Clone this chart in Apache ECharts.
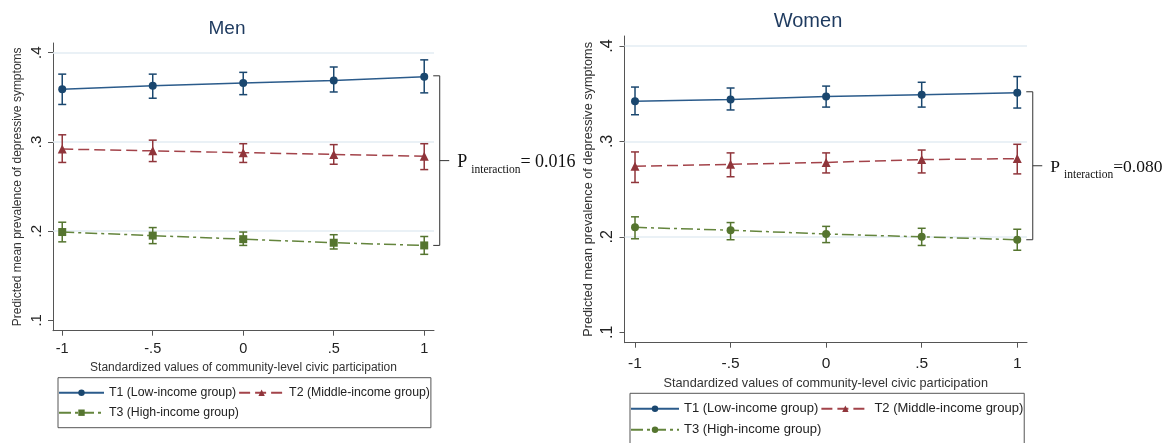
<!DOCTYPE html>
<html><head><meta charset="utf-8">
<script src="https://cdn.jsdelivr.net/npm/echarts@6/dist/echarts.min.js"></script>
<style>html,body{margin:0;padding:0;background:#fff}#c{width:1164px;height:443px}</style>
</head><body><div id="c"></div>
<script>
// ---------- data ----------
const xValues = [-1, -0.5, 0, 0.5, 1];
const xTickLabels = ['-1', '-.5', '0', '.5', '1'];
const yTickValues = [0.1, 0.2, 0.3, 0.4];
const yTickLabels = ['.1', '.2', '.3', '.4'];
const gridLineValues = [0.2, 0.3, 0.4];
const groupNames = ['T1 (Low-income group)', 'T2 (Middle-income group)', 'T3 (High-income group)'];
const panelTitles = ['Men', 'Women'];
const yAxisTitle = 'Predicted mean prevalence of depressive symptoms';
const xAxisTitle = 'Standardized values of community-level civic participation';
const pInteractionText = ['= 0.016', '=0.080'];

// Men
const menT1 = [0.359, 0.363, 0.366, 0.369, 0.373];
const menT1Lo = [0.342, 0.349, 0.353, 0.356, 0.355];
const menT1Hi = [0.376, 0.376, 0.378, 0.384, 0.392];
const menT2 = [0.292, 0.290, 0.288, 0.286, 0.284];
const menT2Lo = [0.277, 0.278, 0.277, 0.275, 0.269];
const menT2Hi = [0.308, 0.302, 0.298, 0.297, 0.298];
const menT3 = [0.199, 0.195, 0.191, 0.187, 0.184];
const menT3Lo = [0.188, 0.186, 0.184, 0.180, 0.174];
const menT3Hi = [0.210, 0.204, 0.199, 0.196, 0.194];
// Women
const womT1 = [0.342, 0.344, 0.347, 0.349, 0.351];
const womT1Lo = [0.328, 0.333, 0.336, 0.336, 0.335];
const womT1Hi = [0.357, 0.356, 0.358, 0.362, 0.368];
const womT2 = [0.274, 0.276, 0.278, 0.281, 0.282];
const womT2Lo = [0.257, 0.263, 0.267, 0.267, 0.266];
const womT2Hi = [0.289, 0.288, 0.288, 0.291, 0.297];
const womT3 = [0.210, 0.207, 0.203, 0.200, 0.197];
const womT3Lo = [0.198, 0.197, 0.194, 0.191, 0.186];
const womT3Hi = [0.221, 0.215, 0.211, 0.209, 0.208];

// ---------- styles ----------
const SANS = 'Liberation Sans, Arial, sans-serif';
const SERIF = 'Liberation Serif, Times New Roman, serif';
const markerColors = ['#1a476f', '#90353b', '#55752f'];
const lineColors = ['#2b5b8b', '#a3434a', '#64853d'];
const lineTypes = ['solid', [11, 5], [12, 4, 3, 4]];

const panels = [
  { grid: { left: 53, top: 43, width: 381, height: 287.7 },
    xRange: [-1.051, 1.054], yRange: [0.0884, 0.4109],
    vals: [menT1, menT2, menT3], lo: [menT1Lo, menT2Lo, menT3Lo], hi: [menT1Hi, menT2Hi, menT3Hi],
    symbols: ['circle', 'triangle', 'rect'], prefix: '',
    title: { x: 227, y: 29, size: 19 },
    tickFont: 14.5, yTickFont: 15, nameFont: 12, xMargin: 11, xNameGap: 28, yNameGap: 29,
    legend: { left: 58, top: 377.7, font: 12.3, lh: 18, iw: 45, width: 380, pad: [6, 1, 6, 0] },
    ann: { font: 18, sub: 11.5 } },
  { grid: { left: 624.5, top: 36, width: 402.5, height: 306.7 },
    xRange: [-1.055, 1.051], yRange: [0.0891, 0.4105],
    vals: [womT1, womT2, womT3], lo: [womT1Lo, womT2Lo, womT3Lo], hi: [womT1Hi, womT2Hi, womT3Hi],
    symbols: ['circle', 'triangle', 'circle'], prefix: 'W|',
    title: { x: 808, y: 21, size: 20 },
    tickFont: 15.5, yTickFont: 16, nameFont: 12.7, xMargin: 13, xNameGap: 33, yNameGap: 30,
    legend: { left: 630, top: 393.3, font: 13, lh: 19, iw: 48, width: 410, pad: [6, 1, 6, 0] },
    ann: { font: 17.5, sub: 11.5 } }
];

const grids = [], xAxes = [], yAxes = [], series = [], legends = [], graphics = [];

panels.forEach((p, pi) => {
  grids.push(Object.assign({ containLabel: false }, p.grid));
  xAxes.push({
    type: 'value', gridIndex: pi, min: p.xRange[0], max: p.xRange[1],
    axisLine: { show: true, onZero: false, lineStyle: { color: '#555', width: 1 } },
    axisTick: { show: true, length: 5, customValues: xValues, lineStyle: { color: '#555' } },
    axisLabel: { customValues: xValues, margin: p.xMargin, fontSize: p.tickFont, fontFamily: SANS, color: '#222',
      formatter: v => xTickLabels[xValues.indexOf(v)] },
    splitLine: { show: false },
    name: xAxisTitle, nameLocation: 'middle', nameGap: p.xNameGap,
    nameTextStyle: { fontSize: p.nameFont, fontFamily: SANS, color: '#333' }
  });
  yAxes.push({
    type: 'value', gridIndex: pi, min: p.yRange[0], max: p.yRange[1],
    axisLine: { show: true, onZero: false, lineStyle: { color: '#555', width: 1 } },
    axisTick: { show: true, length: 5, customValues: yTickValues, lineStyle: { color: '#555' } },
    axisLabel: { customValues: yTickValues, rotate: 90, margin: 9, fontSize: p.yTickFont, fontFamily: SANS, color: '#222',
      formatter: v => yTickLabels[yTickValues.indexOf(v)] },
    splitLine: { show: false },
    name: yAxisTitle, nameLocation: 'middle', nameGap: p.yNameGap,
    nameTextStyle: { fontSize: p.nameFont, fontFamily: SANS, color: '#333' }
  });

  // line series
  for (let g = 0; g < 3; g++) {
    const s = {
      type: 'line', name: p.prefix + groupNames[g], xAxisIndex: pi, yAxisIndex: pi,
      data: xValues.map((x, i) => [x, p.vals[g][i]]),
      symbol: p.symbols[g], symbolSize: g === 1 ? 9 : 8, showSymbol: true,
      lineStyle: { color: lineColors[g], width: 1.5, type: lineTypes[g] },
      itemStyle: { color: markerColors[g] },
      z: 3, animation: false, silent: true
    };
    if (g === 0) {
      s.markLine = {
        silent: true, symbol: ['none', 'none'], z: 1, animation: false,
        label: { show: false },
        lineStyle: { color: '#e3edf3', width: 1.5, type: 'solid' },
        data: gridLineValues.map(v => ({ yAxis: v }))
      };
    }
    series.push(s);
    // error bars
    series.push({
      type: 'custom', name: 'eb' + pi + g, xAxisIndex: pi, yAxisIndex: pi, z: 4,
      animation: false, silent: true,
      data: xValues.map((x, i) => [x, p.lo[g][i], p.hi[g][i]]),
      encode: { x: 0, y: [1, 2] },
      renderItem: (params, api) => {
        const x = api.value(0);
        const a = api.coord([x, api.value(1)]);
        const b = api.coord([x, api.value(2)]);
        const cap = 4;
        const st = { stroke: markerColors[g], lineWidth: 1.5 };
        return { type: 'group', children: [
          { type: 'line', shape: { x1: a[0], y1: a[1], x2: b[0], y2: b[1] }, style: st },
          { type: 'line', shape: { x1: a[0] - cap, y1: a[1], x2: a[0] + cap, y2: a[1] }, style: st },
          { type: 'line', shape: { x1: b[0] - cap, y1: b[1], x2: b[0] + cap, y2: b[1] }, style: st }
        ] };
      }
    });
  }

  // bracket + P interaction annotation
  const last = xValues.length - 1;
  series.push({
    type: 'custom', name: 'br' + pi, xAxisIndex: pi, yAxisIndex: pi, z: 5,
    animation: false, silent: true, clip: false,
    data: [[xValues[last], p.vals[0][last], p.vals[2][last]]],
    encode: { x: 0, y: [1, 2] },
    renderItem: (params, api) => {
      const t = api.coord([api.value(0), api.value(1)]);
      const b = api.coord([api.value(0), api.value(2)]);
      const x0 = t[0] + 9, x1 = t[0] + 15.5, x2 = t[0] + 25;
      const yt = t[1] - 1, yb = b[1], ym = (yt + yb) / 2;
      const st = { stroke: '#333', lineWidth: 1, fill: null };
      return { type: 'group', children: [
        { type: 'polyline', shape: { points: [[x0, yt], [x1, yt], [x1, yb], [x0, yb]] }, style: st },
        { type: 'line', shape: { x1: x1, y1: ym, x2: x2, y2: ym }, style: st },
        { type: 'text', x: t[0] + 33, y: ym + 2,
          style: {
            text: '{p|P}{s|interaction}{e|' + pInteractionText[pi] + '}',
            align: 'left', verticalAlign: 'middle',
            rich: {
              p: { fontSize: p.ann.font, fontFamily: SERIF, fill: '#111', lineHeight: 26 },
              s: { fontSize: p.ann.sub, fontFamily: SERIF, fill: '#111', lineHeight: 12, verticalAlign: 'bottom', padding: [0, 0, 0, 4] },
              e: { fontSize: p.ann.font, fontFamily: SERIF, fill: '#111', lineHeight: 26 }
            }
          } }
      ] };
    }
  });

  legends.push({
    left: p.legend.left, top: p.legend.top, width: p.legend.width, orient: 'horizontal',
    padding: p.legend.pad, itemGap: 2, itemWidth: p.legend.iw, itemHeight: 8,
    borderColor: '#555', borderWidth: 1, selectedMode: false,
    textStyle: { fontSize: p.legend.font, fontFamily: SANS, color: '#222', lineHeight: p.legend.lh },
    formatter: n => n.replace(/^W\|/, ''),
    data: groupNames.map(n => ({ name: p.prefix + n }))
  });

  graphics.push({
    type: 'text', x: p.title.x, y: p.title.y, silent: true,
    style: { text: panelTitles[pi], fontSize: p.title.size, fontFamily: SANS, fill: '#1e3a5f', align: 'center', verticalAlign: 'middle' }
  });
});

const chart = echarts.init(document.getElementById('c'), null, { renderer: 'canvas' });
chart.setOption({
  backgroundColor: '#fff', animation: false,
  grid: grids, xAxis: xAxes, yAxis: yAxes, series: series, legend: legends, graphic: graphics
});
</script>
</body></html>
